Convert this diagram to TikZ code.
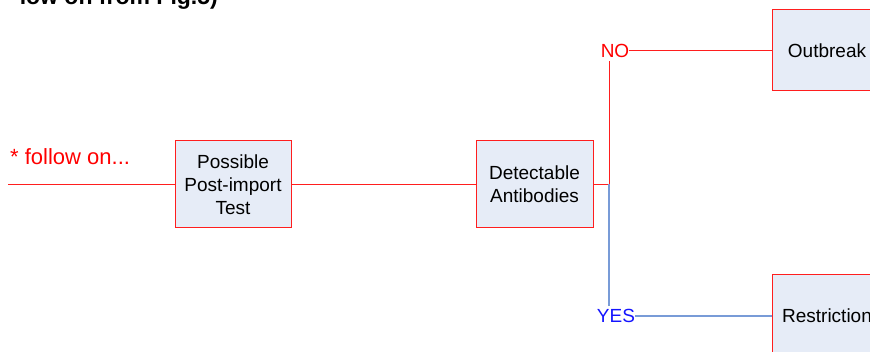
\documentclass[tikz,border=0pt]{standalone}
\usepackage{fontspec}
\setmainfont{Liberation Sans}
\definecolor{boxfill}{RGB}{230,236,247}
\definecolor{linered}{RGB}{255,30,30}
\definecolor{lineblue}{RGB}{120,155,215}
\definecolor{textblue}{RGB}{20,20,255}
\begin{document}
\begin{tikzpicture}[x=1pt,y=-1pt,
  stepbox/.style={draw=linered,fill=boxfill,line width=1pt,align=center,
    font=\fontsize{19}{23}\selectfont,inner sep=0pt},
  redline/.style={draw=linered,line width=1pt},
  blueline/.style={draw=lineblue,line width=1.2pt},
  lbl/.style={inner sep=0pt,font=\fontsize{19}{23}\selectfont}]
\useasboundingbox (0,0) rectangle (870,352);
\clip (0,0) rectangle (870,352);
\node[anchor=base east,inner sep=0pt,font=\fontsize{23}{26}\bfseries] (title) at (218,5) {low on from Fig.5)};
\node[lbl,anchor=west,text=red,font=\fontsize{22}{25}\selectfont] (follow) at (10,157) {* follow on...};
\coordinate (start) at (8,185);
\node[stepbox,minimum width=116pt,minimum height=87pt] (test) at (233,184.5) {Possible\\Post-import\\Test};
\node[stepbox,minimum width=117pt,minimum height=87pt] (anti) at (534.5,184.5) {Detectable\\Antibodies};
\coordinate (junc) at (609,184.5);
\node[lbl,text=red] (no) at (615,50.5) {NO};
\node[lbl,text=textblue] (yes) at (616,316) {YES};
\node[stepbox,minimum width=110pt,minimum height=81pt] (out) at (827,50.5) {Outbreak};
\node[stepbox,minimum width=110pt,minimum height=82pt] (res) at (827,316) {Restriction};
\draw[redline] (start) -- (test.west |- start);
\draw[redline] (test.east |- start) -- (anti.west |- start);
\draw[redline] (anti.east |- junc) -- (junc);
\draw[redline] (junc) -- ([yshift=-4pt]junc |- no.south);
\draw[blueline] (junc) -- ([yshift=3pt]junc |- yes.north);
\draw[redline] (no.east) -- (out.west |- no.east);
\draw[blueline] (yes.east) -- (res.west |- yes.east);
\end{tikzpicture}
\end{document}
